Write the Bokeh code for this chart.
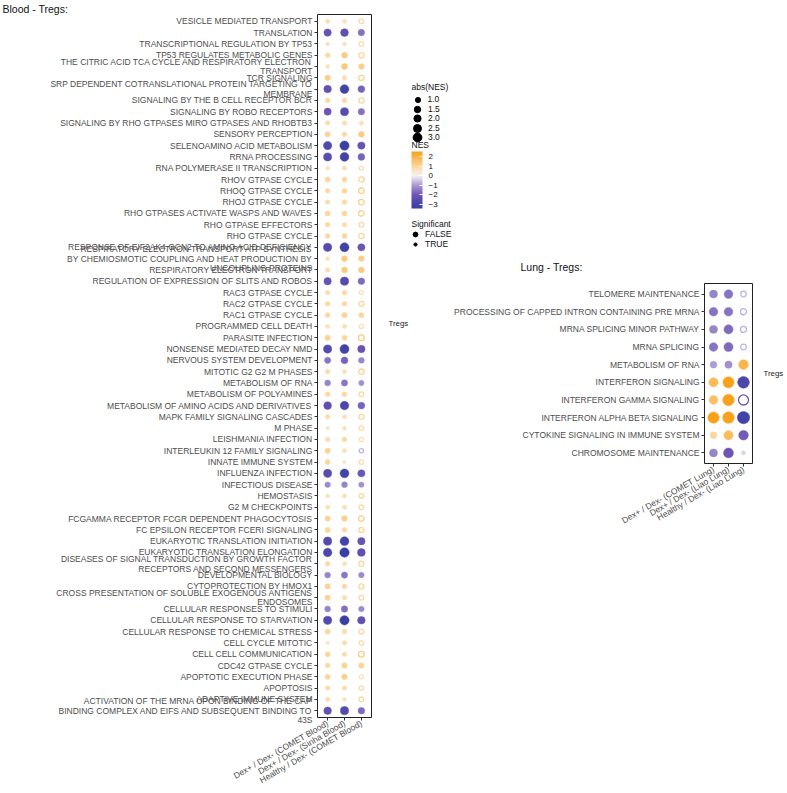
import numpy as np
from math import pi
from bokeh.plotting import figure
from bokeh.models import (FactorRange, ColumnDataSource, LinearColorMapper, ColorBar,
                          FixedTicker, Legend, LegendItem, Label, Range1d, CategoricalAxis,
                          Title, AllLabels)
from bokeh.layouts import row, column
from bokeh.transform import transform
from bokeh.embed import file_html
from bokeh.resources import INLINE

# ---------------- data ----------------
blood_pathways = [
    "VESICLE MEDIATED TRANSPORT",
    "TRANSLATION",
    "TRANSCRIPTIONAL REGULATION BY TP53",
    "TP53 REGULATES METABOLIC GENES",
    "THE CITRIC ACID TCA CYCLE AND RESPIRATORY ELECTRON\nTRANSPORT",
    "TCR SIGNALING",
    "SRP DEPENDENT COTRANSLATIONAL PROTEIN TARGETING TO\nMEMBRANE",
    "SIGNALING BY THE B CELL RECEPTOR BCR",
    "SIGNALING BY ROBO RECEPTORS",
    "SIGNALING BY RHO GTPASES MIRO GTPASES AND RHOBTB3",
    "SENSORY PERCEPTION",
    "SELENOAMINO ACID METABOLISM",
    "RRNA PROCESSING",
    "RNA POLYMERASE II TRANSCRIPTION",
    "RHOV GTPASE CYCLE",
    "RHOQ GTPASE CYCLE",
    "RHOJ GTPASE CYCLE",
    "RHO GTPASES ACTIVATE WASPS AND WAVES",
    "RHO GTPASE EFFECTORS",
    "RHO GTPASE CYCLE",
    "RESPONSE OF EIF2AK4 GCN2 TO AMINO ACID DEFICIENCY",
    "RESPIRATORY ELECTRON TRANSPORT ATP SYNTHESIS\nBY CHEMIOSMOTIC COUPLING AND HEAT PRODUCTION BY\nUNCOUPLING PROTEINS",
    "RESPIRATORY ELECTRON TRANSPORT",
    "REGULATION OF EXPRESSION OF SLITS AND ROBOS",
    "RAC3 GTPASE CYCLE",
    "RAC2 GTPASE CYCLE",
    "RAC1 GTPASE CYCLE",
    "PROGRAMMED CELL DEATH",
    "PARASITE INFECTION",
    "NONSENSE MEDIATED DECAY NMD",
    "NERVOUS SYSTEM DEVELOPMENT",
    "MITOTIC G2 G2 M PHASES",
    "METABOLISM OF RNA",
    "METABOLISM OF POLYAMINES",
    "METABOLISM OF AMINO ACIDS AND DERIVATIVES",
    "MAPK FAMILY SIGNALING CASCADES",
    "M PHASE",
    "LEISHMANIA INFECTION",
    "INTERLEUKIN 12 FAMILY SIGNALING",
    "INNATE IMMUNE SYSTEM",
    "INFLUENZA INFECTION",
    "INFECTIOUS DISEASE",
    "HEMOSTASIS",
    "G2 M CHECKPOINTS",
    "FCGAMMA RECEPTOR FCGR DEPENDENT PHAGOCYTOSIS",
    "FC EPSILON RECEPTOR FCERI SIGNALING",
    "EUKARYOTIC TRANSLATION INITIATION",
    "EUKARYOTIC TRANSLATION ELONGATION",
    "DISEASES OF SIGNAL TRANSDUCTION BY GROWTH FACTOR\nRECEPTORS AND SECOND MESSENGERS",
    "DEVELOPMENTAL BIOLOGY",
    "CYTOPROTECTION BY HMOX1",
    "CROSS PRESENTATION OF SOLUBLE EXOGENOUS ANTIGENS\nENDOSOMES",
    "CELLULAR RESPONSES TO STIMULI",
    "CELLULAR RESPONSE TO STARVATION",
    "CELLULAR RESPONSE TO CHEMICAL STRESS",
    "CELL CYCLE MITOTIC",
    "CELL CELL COMMUNICATION",
    "CDC42 GTPASE CYCLE",
    "APOPTOTIC EXECUTION PHASE",
    "APOPTOSIS",
    "ADAPTIVE IMMUNE SYSTEM",
    "ACTIVATION OF THE MRNA UPON BINDING OF THE CAP\nBINDING COMPLEX AND EIFS AND SUBSEQUENT BINDING TO\n43S",
]
blood_columns = ["Dex+ / Dex- (COMET Blood)", "Dex+ / Dex- (Sinha Blood)", "Healthy / Dex- (COMET Blood)"]

blood_nes_comet = [0.7, -2.1, 0.6, 0.9, 0.6, 1.2, -2.2, 0.9, -2.0, 0.8,
                   1.1, -2.7, -2.5, 0.6, 1.0, 0.9, 0.8, 1.0, 0.9, 0.9,
                   -2.6, 0.6, 0.8, -2.1, 0.8, 0.9, 0.9, 0.7, 1.1, -2.6,
                   -1.5, 0.8, -1.3, 0.9, -2.3, 0.8, 0.5, 0.8, 1.1, 1.0,
                   -2.5, -1.2, 0.6, 0.7, 1.1, 1.0, -2.6, -2.8, 0.9, -1.3,
                   1.1, 1.1, -1.3, -2.6, 1.0, 0.5, 1.0, 0.9, 1.0, 0.8,
                   0.8, -2.2]
blood_nes_sinha = [0.7, -2.3, 0.6, 1.3, 1.4, 0.8, -3.0, 0.9, -2.5, 0.8,
                   0.9, -3.3, -3.0, 0.7, 1.0, 1.0, 0.9, 1.0, 0.8, 1.0,
                   -3.1, 1.3, 1.3, -2.6, 0.9, 0.9, 1.1, 0.7, 1.0, -3.1,
                   -1.8, 0.7, -1.5, 0.9, -2.8, 0.7, 0.6, 0.9, 0.7, 0.5,
                   -3.0, -1.3, 0.7, 0.7, 1.2, 0.9, -3.0, -3.4, 0.7, -1.5,
                   0.9, 0.8, -1.6, -3.3, 0.8, 0.8, 0.8, 1.1, 1.2, 0.8,
                   0.6, -2.6]
blood_nes_healthy = [0.9, -1.6, 0.8, 1.0, 1.2, 1.1, -1.8, 1.0, -1.6, 0.7,
                     1.3, -2.1, -1.8, 0.7, 1.1, 1.2, 1.2, 1.2, 0.9, 1.1,
                     -2.0, 1.2, 1.3, -1.7, 0.7, 1.0, 1.0, 0.7, 1.3, -2.1,
                     -1.3, 1.1, -1.1, 0.9, -1.8, 1.0, 0.8, 0.7, -0.7, 0.8,
                     -2.0, -1.1, 0.9, 0.9, 1.2, 1.0, -2.1, -2.3, 1.0, -1.2,
                     1.0, 0.9, -1.2, -2.2, 0.9, 0.8, 1.3, 1.1, 0.6, 0.8,
                     0.9, -1.7]
blood_sig_healthy = [False, True, False, False, True, False, True, False, True, True,
                     True, True, True, False, False, False, False, False, False, False,
                     True, True, True, True, False, False, True, False, False, True,
                     True, False, True, False, True, False, False, False, False, False,
                     True, True, False, False, False, False, True, True, False, True,
                     False, False, True, True, False, False, False, True, False, False,
                     False, True]

lung_pathways = [
    "TELOMERE MAINTENANCE",
    "PROCESSING OF CAPPED INTRON CONTAINING PRE MRNA",
    "MRNA SPLICING MINOR PATHWAY",
    "MRNA SPLICING",
    "METABOLISM OF RNA",
    "INTERFERON SIGNALING",
    "INTERFERON GAMMA SIGNALING",
    "INTERFERON ALPHA BETA SIGNALING",
    "CYTOKINE SIGNALING IN IMMUNE SYSTEM",
    "CHROMOSOME MAINTENANCE",
]
lung_columns = ["Dex+ / Dex- (COMET Lung)", "Dex+ / Dex- (Liao Lung)", "Healthy / Dex- (Liao Lung)"]
lung_nes_comet = [-1.3, -1.55, -1.3, -1.55, -0.95, 1.75, 1.6, 2.6, 0.95, -1.3]
lung_nes_liao = [-1.55, -1.55, -1.7, -1.7, -1.1, 2.5, 2.7, 2.7, 1.75, -2.0]
lung_nes_healthy = [-0.65, -0.75, -0.75, -0.65, 1.9, -2.8, -2.05, -3.1, -1.9, -0.35]
lung_sig_healthy = [False, False, False, False, True, True, False, True, True, True]

strip_label = "Tregs"
size_legend_values = [1.0, 1.5, 2.0, 2.5, 3.0]
sig_legend_labels = ["FALSE", "TRUE"]
nes_ticks = [-3, -2, -1, 0, 1, 2]
nes_low, nes_high = -3.42, 2.52

BLOOD_SCALE = 5.1
LUNG_SCALE = 7.0
FONT = "Liberation Sans"

# ---------------- colour scale ----------------
stops = [(-3.42, "#383fa4"), (-3.0, "#4444a8"), (-2.0, "#6d55b5"), (-1.0, "#a999d3"),
         (0.0, "#f5f3f3"), (1.0, "#fdd69c"), (2.0, "#fbb347"), (2.52, "#f9a11b")]


def make_palette(stops, n=256):
    vals = np.array([s[0] for s in stops])
    cols = np.array([[int(s[1][i:i + 2], 16) for i in (1, 3, 5)] for s in stops], float)
    out = []
    for x in np.linspace(vals[0], vals[-1], n):
        rgb = [int(round(np.interp(x, vals, cols[:, k]))) for k in range(3)]
        out.append("#%02x%02x%02x" % tuple(rgb))
    return out


palette = make_palette(stops)
mapper = LinearColorMapper(palette=palette, low=nes_low, high=nes_high,
                           low_color=palette[0], high_color=palette[-1])


def long_form(paths, cols, series, sig_last, scale):
    filled = {"path": [], "col": [], "nes": [], "size": []}
    ring = {"path": [], "col": [], "nes": [], "size": []}
    for j, (col, vals) in enumerate(zip(cols, series)):
        for i, pth in enumerate(paths):
            v = vals[i]
            sig = True if j < 2 else sig_last[i]
            t = filled if sig else ring
            t["path"].append(pth)
            t["col"].append(col)
            t["nes"].append(v)
            t["size"].append(scale * np.sqrt(abs(v)))
    return ColumnDataSource(filled), ColumnDataSource(ring)


def style(p):
    p.xgrid.visible = False
    p.ygrid.visible = False
    p.outline_line_color = "#222222"
    p.outline_line_width = 1
    p.background_fill_color = "white"
    p.border_fill_color = "white"
    for ax in (p.xaxis[0], p.yaxis[0]):
        ax.axis_line_color = None
        ax.major_tick_line_color = "#333333"
        ax.major_tick_out = 3
        ax.major_tick_in = 0
        ax.major_label_text_font = FONT
        ax.major_label_text_font_size = "8.5px"
        ax.major_label_text_color = "#4d4d4d"
        ax.major_label_standoff = 2
        ax.major_label_text_line_height = 0.95
    p.xaxis.major_label_orientation = pi / 6


def add_strip(p, factors, padding, standoff):
    # facet strip label on the right side of the panel
    p.extra_y_ranges = {"strip": FactorRange(factors=factors, range_padding=padding,
                                             range_padding_units="absolute")}
    ax = CategoricalAxis(y_range_name="strip")
    ax.axis_line_color = None
    ax.major_tick_line_color = None
    ax.minor_tick_line_color = None
    ax.major_label_text_font = FONT
    ax.major_label_text_font_size = "7.8px"
    ax.major_label_text_color = "#1a1a1a"
    ax.major_label_standoff = standoff
    ax.major_label_policy = AllLabels()
    p.add_layout(ax, "right")


def draw_points(p, f_src, r_src):
    p.scatter(x="col", y="path", size="size", source=f_src,
              fill_color=transform("nes", mapper), line_color=transform("nes", mapper), line_width=0.5)
    p.scatter(x="col", y="path", size="size", source=r_src,
              fill_color="white", line_color=transform("nes", mapper), line_width=1.3)


# ---------------- blood panel ----------------
pA = figure(width=411, height=792,
            x_range=FactorRange(*blood_columns, range_padding=0.1, range_padding_units="absolute"),
            y_range=FactorRange(*blood_pathways[::-1], range_padding=0.1, range_padding_units="absolute"),
            output_backend="svg", toolbar_location=None,
            min_border_left=317, min_border_right=39, min_border_top=0, min_border_bottom=71)
pA.title = Title(text="Blood - Tregs:", align="left", offset=-315, standoff=0,
                 text_font=FONT, text_font_size="10.5px", text_font_style="normal",
                 text_color="#111111")
style(pA)
bf, br = long_form(blood_pathways, blood_columns,
                   [blood_nes_comet, blood_nes_sinha, blood_nes_healthy], blood_sig_healthy, BLOOD_SCALE)
draw_points(pA, bf, br)
add_strip(pA, ["\u200b", strip_label], 3.17, 11)

# ---------------- legend area (window coords: x 411..786, y 0..276) ----------------
LX0, LW, LH = 411, 375, 276
pL = figure(width=LW, height=LH, x_range=Range1d(LX0, LX0 + LW), y_range=Range1d(LH, 0),
            output_backend="svg", toolbar_location=None, x_axis_location=None, y_axis_location=None,
            min_border_left=0, min_border_right=0, min_border_top=0, min_border_bottom=0)
pL.xgrid.visible = False
pL.ygrid.visible = False
pL.outline_line_color = None
pL.background_fill_color = "white"
pL.border_fill_color = "white"


def add_text(p, x, y, text, size="8.5px"):
    p.add_layout(Label(x=x, y=y, text=text, text_font=FONT, text_font_size=size,
                       text_color="#111111", text_baseline="middle", text_align="left"))


add_text(pL, 520, 266, "Lung - Tregs:", "10.5px")
add_text(pL, 411, 86, "abs(NES)")
add_text(pL, 411, 144, "NES")
add_text(pL, 411, 223, "Significant")


def key_legend(p, label, d, xc, yc, xlab):
    g = int(round(d / 0.4))
    h = max(g, 10)
    # key renderer: holds no drawable point (NaN), only supplies the legend glyph
    r = p.scatter(x=[np.nan], y=[np.nan], size=d, color="black")
    top = yc - h / 2
    leg = Legend(items=[LegendItem(label=label, renderers=[r])],
                 location=(xc - g / 2 - LX0, LH - (top + h)),
                 glyph_width=g, glyph_height=g, label_height=g,
                 label_standoff=max(0, int(round(xlab - xc - g / 2))),
                 padding=0, margin=0, spacing=0, border_line_color=None,
                 background_fill_alpha=0, label_text_font=FONT,
                 label_text_font_size="8.5px", label_text_color="#111111")
    p.add_layout(leg)


for i, v in enumerate(size_legend_values):
    key_legend(pL, f"{v:.1f}", BLOOD_SCALE * np.sqrt(v), 417, 99 + 9.5 * i, 428)
for i, (lab, d) in enumerate(zip(sig_legend_labels, [5.0, 3.2])):
    key_legend(pL, lab, d, 415, 234 + 10.2 * i, 425)

cb = ColorBar(color_mapper=mapper, location=(0, LH - 208), width=11, height=57,
              padding=0, margin=0, title=None,
              ticker=FixedTicker(ticks=nes_ticks), major_label_policy=AllLabels(),
              major_label_overrides={t: (str(t).replace("-", "\u2212")) for t in nes_ticks},
              major_label_text_font=FONT, major_label_text_font_size="8px",
              major_label_text_color="#111111",
              major_tick_line_color="white", major_tick_in=3, major_tick_out=0,
              label_standoff=6, bar_line_color=None, background_fill_alpha=0,
              border_line_color=None)
pL.add_layout(cb)

# ---------------- lung panel (window y 276..792) ----------------
pB = figure(width=LW, height=792 - LH,
            x_range=FactorRange(*lung_columns, range_padding=0.1, range_padding_units="absolute"),
            y_range=FactorRange(*lung_pathways[::-1], range_padding=0.1, range_padding_units="absolute"),
            output_backend="svg", toolbar_location=None,
            min_border_left=704 - LX0, min_border_right=LX0 + LW - 761, min_border_top=283 - LH,
            min_border_bottom=792 - 463)
style(pB)
lf, lr = long_form(lung_pathways, lung_columns,
                   [lung_nes_comet, lung_nes_liao, lung_nes_healthy], lung_sig_healthy, LUNG_SCALE)
draw_points(pB, lf, lr)
add_strip(pB, [strip_label], 0.0, 5)

layout = row(column(pA), column(row(pL), row(pB)))
open("out.html", "w").write(file_html(layout, INLINE))
